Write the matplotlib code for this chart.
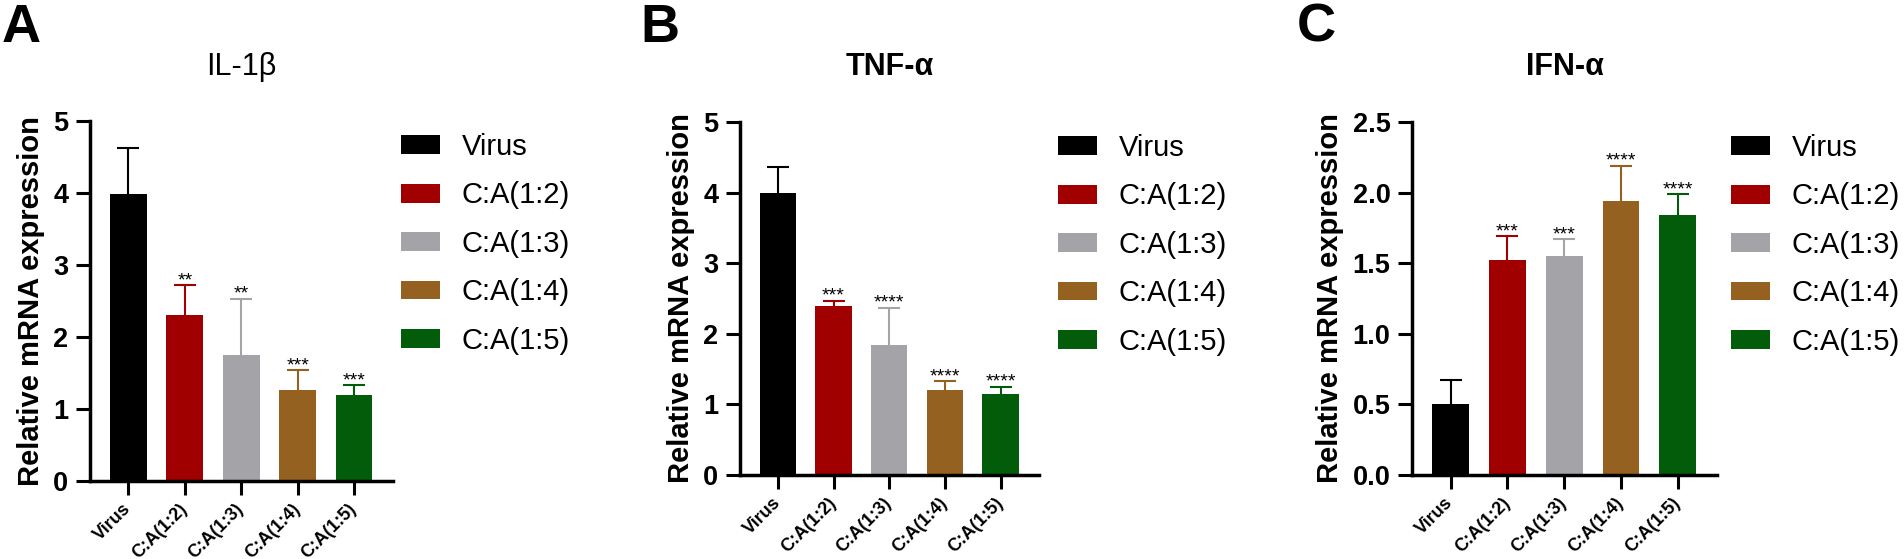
import numpy as np
import matplotlib
matplotlib.use('Agg')
import matplotlib.pyplot as plt

plt.rcParams['font.family'] = ['Liberation Sans', 'DejaVu Sans']

groups = ['Virus', 'C:A(1:2)', 'C:A(1:3)', 'C:A(1:4)', 'C:A(1:5)']
colors = ['#000000', '#a00000', '#a4a4a8', '#946120', '#035c09']

il1b_mean = [3.99, 2.31, 1.75, 1.26, 1.19]
il1b_err = [0.64, 0.41, 0.78, 0.28, 0.14]
il1b_sig = ['', '**', '**', '***', '***']

tnf_mean = [3.99, 2.39, 1.84, 1.20, 1.15]
tnf_err = [0.37, 0.08, 0.53, 0.13, 0.10]
tnf_sig = ['', '***', '****', '****', '****']

ifn_mean = [0.50, 1.52, 1.55, 1.94, 1.84]
ifn_err = [0.17, 0.17, 0.12, 0.25, 0.15]
ifn_sig = ['', '***', '***', '****', '****']

W, H = 1904, 559
fig = plt.figure(figsize=(W / 100, H / 100), dpi=100)


def px_box(left, right, top, bottom):
    return [left / W, 1 - bottom / H, (right - left) / W, (bottom - top) / H]


panels = [
    dict(letter='A', lx=2, title='IL-1β', tw='normal', box=(90, 393, 121, 481),
         mean=il1b_mean, err=il1b_err, sig=il1b_sig, yticks=[0, 1, 2, 3, 4, 5],
         ylim=5, fmt='{:.0f}', leg=(401, 133)),
    dict(letter='B', lx=640, title='TNF-α', tw='bold', box=(740, 1039, 122, 475),
         mean=tnf_mean, err=tnf_err, sig=tnf_sig, yticks=[0, 1, 2, 3, 4, 5],
         ylim=5, fmt='{:.0f}', leg=(1058, 134)),
    dict(letter='C', lx=1297, title='IFN-α', tw='bold', box=(1412, 1717, 122, 475),
         mean=ifn_mean, err=ifn_err, sig=ifn_sig, yticks=[0, 0.5, 1.0, 1.5, 2.0, 2.5],
         ylim=2.5, fmt='{:.1f}', leg=(1731, 134)),
]

x = np.arange(len(groups))
for p in panels:
    l, r, t, b = p['box']
    ax = fig.add_axes(px_box(l, r, t, b))
    bars = ax.bar(x, p['mean'], width=0.65, color=colors, zorder=2)
    for i in range(len(groups)):
        eb = ax.errorbar(x[i], p['mean'][i], yerr=[[0], [p['err'][i]]], fmt='none',
                         ecolor=colors[i], elinewidth=1.5, capsize=8, capthick=1.5,
                         zorder=1)
        # only the upper whisker has a cap
        eb[1][0].set_visible(False)
        if p['sig'][i]:
            ax.annotate(p['sig'][i], (x[i], p['mean'][i] + p['err'][i]),
                        xytext=(0, 0), textcoords='offset points',
                        ha='center', va='baseline', fontsize=14)
    ax.set_xlim(-0.68, 4.69)
    ax.set_ylim(0, p['ylim'])
    ax.set_yticks(p['yticks'])
    ax.set_yticklabels([p['fmt'].format(v) for v in p['yticks']],
                       fontsize=19.5, fontweight='bold')
    ax.set_xticks(x)
    ax.set_xticklabels(groups, rotation=45, ha='right', va='center',
                       rotation_mode='anchor', fontsize=13, fontweight='bold')
    ax.tick_params(axis='both', direction='out', length=10, width=2.2)
    ax.tick_params(axis='x', pad=8)
    ax.tick_params(axis='y', pad=5.5)
    for s in ['top', 'right']:
        ax.spines[s].set_visible(False)
    for s in ['left', 'bottom']:
        ax.spines[s].set_linewidth(2.5)
    ax.set_ylabel('Relative mRNA expression', fontsize=21, fontweight='bold', labelpad=6)

    fig.text((l + r) / 2 / W, 1 - 75 / H, p['title'], ha='center', va='baseline',
             fontsize=22, fontweight=p['tw'])
    fig.text(p['lx'] / W, 1 - 3 / H, p['letter'], ha='left', va='top',
             fontsize=39, fontweight='bold')

    lx, ly = p['leg']
    ax.legend(bars, groups, loc='upper left', bbox_to_anchor=(lx / W, 1 - ly / H),
              bbox_transform=fig.transFigure, frameon=False, fontsize=21,
              borderpad=0, borderaxespad=0, handlelength=1.34, handleheight=0.62,
              handletextpad=0.75, labelspacing=0.7)

fig.savefig('out.png', dpi=100)
